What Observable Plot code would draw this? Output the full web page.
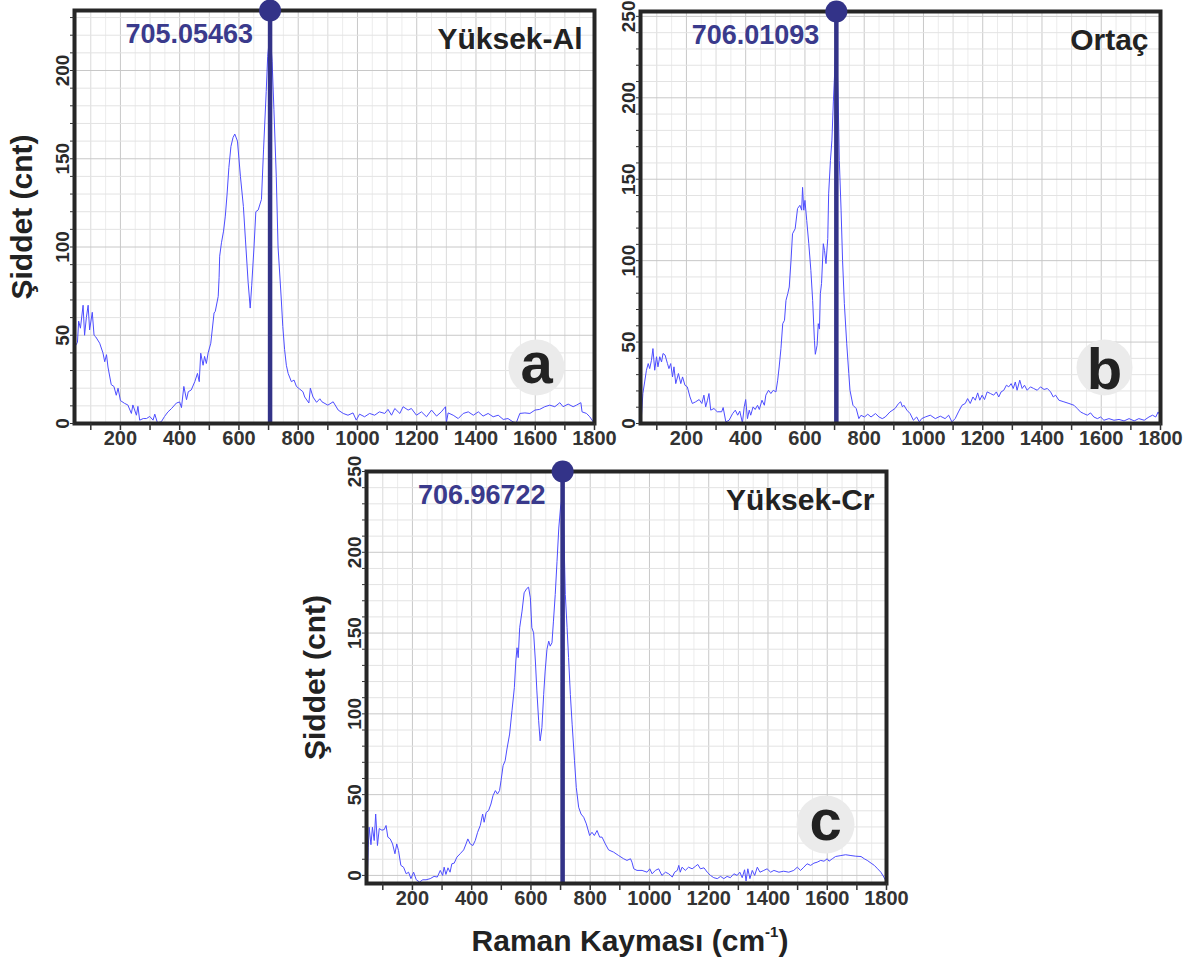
<!DOCTYPE html>
<html>
<head>
<meta charset="utf-8">
<script src="https://cdn.jsdelivr.net/npm/d3@7"></script>
<script src="https://cdn.jsdelivr.net/npm/@observablehq/plot@0.6"></script>
<style>
  html, body { margin: 0; padding: 0; background: #fff; }
  #fig { position: relative; width: 1195px; height: 962px; overflow: hidden;
         font-family: "Liberation Sans", Arial, Helvetica, sans-serif; }
  .panel { position: absolute; }
  .xtitle { position: absolute; left: 330px; width: 600px; top: 926px; text-align: center;
            font-size: 30px; line-height: 30px; font-weight: bold; color: #222; }
  .xtitle sup { font-size: 15px; vertical-align: 14px; line-height: 0; }
</style>
</head>
<body>
<div id="fig"></div>
<script>
// Raman spectra of three samples: Raman shift (cm-1) vs. intensity (counts)
const FONT = '"Liberation Sans", Arial, Helvetica, sans-serif';
const NAVY = "#333388";
const TRACE = "#4d4dff";

// (a) Yüksek-Al
const shiftA = [48,55,59,65,74,79,85,91,96,105,111,117,130,141,147,153,158,169,178,186,192,200,214,225,237,242,254,259,265,277,288,299,310,316,325,338,349,360,372,389,400,406,414,423,429,439,451,460,466,471,479,484,490,496,505,516,520,530,533,535,541,548,554,560,566,573,580,586,595,605,615,622,631,638,643,651,657,665,676,683,692,697,705,712,718,726,732,743,748,754,760,766,777,786,794,805,816,822,836,841,850,862,873,880,900,918,935,952,968,985,996,1007,1024,1041,1058,1074,1092,1103,1115,1126,1143,1154,1171,1182,1199,1216,1233,1250,1267,1283,1297,1300,1306,1323,1340,1357,1374,1391,1408,1424,1441,1458,1475,1492,1508,1525,1536,1548,1565,1582,1599,1615,1632,1649,1666,1683,1694,1711,1728,1739,1754,1758,1773,1784,1796];
const countA = [44,46,58,54,67,50,60,67,53,63,50,49,45.5,40,35,39,32,22,21,16,20,13,11.4,10.5,5.7,10.5,4.7,9.7,1.9,2.8,2.8,4,1.9,5.3,0.4,1,4,6.5,8.4,11.6,12.2,9,21,13.5,18,19,23.7,28.4,23.7,39.8,33,38,34,40,45.5,62.6,63.5,72,82.6,94.8,102.4,109,117.5,130,145,157,162,164,160,140,123,104,80,65.4,78,100.5,120,121,127,155,188,208,222,205,178,140,100,70,55,42,33,28.4,23.7,24.6,21,19.5,18,15,11.6,20,15,12,14,12.3,10.4,12.3,7.6,5.7,4.7,6,1.9,5.3,3.8,5.7,4.7,6.6,5.7,8,4.7,8.5,5.7,9.5,7.6,8.5,4.7,6.6,3.8,7.6,4.2,6.6,9.5,0.4,6,4.7,2.8,5.7,6.6,4.7,6.6,4.2,5.7,3.8,4.7,2.3,2.8,0.9,0.4,5.7,6,5.7,7.6,8,9.5,10.4,9.5,11.8,9.5,11,9.5,10.4,11.8,6.6,5.7,3.8,0.9];

// (b) Ortaç
const shiftB = [48,53,59,65,71,76,82,87,93,99,104,110,116,121,128,136,141,147,153,158,164,173,181,187,195,203,212,220,231,243,252,259,265,271,276,282,293,304,319,324,333,344,356,365,373,380,389,395,400,406,412,417,425,432,440,446,455,463,468,477,485,493,502,508,513,519,525,531,536,542,547,553,558,567,575,583,589,592,596,600,606,613,620,626,632,635,641,645,649,652,656,662,666,671,677,680,686,691,696,706,712,716,722,727,733,741,748,752,762,773,782,789,801,812,823,838,850,861,871,887,904,916,923,929,934,944,955,966,977,986,994,1006,1023,1040,1057,1073,1085,1096,1107,1118,1130,1141,1149,1158,1167,1175,1183,1190,1198,1206,1215,1226,1237,1246,1254,1262,1271,1280,1288,1296,1303,1310,1316,1325,1333,1341,1350,1361,1372,1384,1395,1407,1418,1429,1438,1446,1457,1474,1491,1508,1519,1530,1541,1553,1564,1575,1587,1598,1609,1626,1643,1660,1677,1694,1711,1727,1745,1761,1773,1784,1792,1798];
const countB = [4,18.4,25.5,32.7,36.8,33.7,38.8,46,32.7,41,34.8,41,37.8,43,42,36.8,33.7,36.8,28.6,34.8,24.5,30.7,24.5,28.6,23.5,22.5,16.3,12.3,13.3,14.7,12.3,17.4,10.2,14.3,18.4,8.2,9.2,7.2,7.2,9.8,1,2,6.1,8.2,5.1,7.6,0.4,10.2,14.7,3,8.2,5.1,10.2,8.6,11.2,8.6,14.3,11.2,17.4,20.4,18.4,20.4,19.4,26.6,34.7,46,61.3,63.4,75.6,79.7,83.8,100.2,116.5,119.6,132,134,131,145,131,137,124.7,110.4,94,75.6,51,42.5,48,61.3,58,79.7,86,110.4,106.3,98.2,113.5,141,161.5,174,198,238,200,161.5,131,100,73.6,49,30.7,20.4,11.2,9.2,3,5,4,5.7,4,6.1,4,3,4,7.1,9.2,12.3,13.3,10.2,11.2,8.2,6.1,2,4,1,3,4,5.1,3,4.5,3,5.1,1,3,7.1,11.2,12.3,15.3,12.3,16.3,14.3,18.8,14.3,17.4,14.7,19.4,18.4,17.4,19.4,16.3,19.4,20.4,23.5,22.5,24.5,21.5,25.5,20.4,26.6,21.5,23.5,20.4,22.5,21.5,20.4,22.5,20.9,21.5,19.4,16.3,17.4,14.3,13.3,12.3,11.2,9.2,7.1,6.1,5.1,6.5,4,3,4,2,3,2,2.5,1.6,3,1.6,3,2,4,5.1,4,7.1,5];

// (c) Yüksek-Cr
const shiftC = [48,51,54,60,65,71,76,82,88,97,105,111,117,125,133,141,147,153,161,170,179,187,195,204,213,224,235,246,260,273,284,294,302,307,313,320,327,333,341,350,361,373,381,387,395,404,412,420,429,437,442,449,457,465,472,480,487,494,499,506,513,519,528,536,544,549,553,557,562,570,577,586,592,598,603,609,615,620,626,631,637,643,648,654,660,665,671,676,682,688,694,700,707,712,716,722,727,733,739,747,753,761,769,778,787,798,806,814,823,832,840,851,862,879,896,913,924,936,941,947,958,975,992,1001,1009,1020,1031,1042,1054,1065,1077,1085,1094,1099,1104,1110,1121,1132,1144,1155,1163,1172,1184,1195,1206,1217,1229,1240,1251,1262,1273,1285,1296,1305,1313,1321,1326,1332,1339,1347,1355,1364,1373,1386,1397,1409,1420,1437,1453,1470,1487,1499,1510,1521,1532,1544,1555,1566,1578,1589,1600,1606,1617,1628,1646,1662,1680,1696,1714,1725,1735,1748,1759,1770,1781,1791,1798];
const countC = [1,17.5,29.8,19,29.8,21.6,38,18.5,29,28,28.4,30.9,23.7,22.6,19.5,13.4,19.5,15.4,6.2,5.1,1,2,-2,2,-2.7,-4.1,-2.7,-2.7,-2,-0.6,-1,3.1,0,5.1,0.6,4.7,2,7.2,7.6,11.3,13.4,15.8,19.5,22.6,19.5,18.5,21.6,26.7,30.9,38,32.9,39,40.1,44.2,49.4,52.5,50.4,52.5,58.6,67.9,71,78.2,87.5,101.9,116.2,132.7,140.9,134.8,153.3,163.6,174.9,177.6,178.4,171.8,153.3,150.2,132.7,114.2,95.7,83.3,91.5,112.1,126.5,139.9,145,141.9,144,157.4,173.9,194.4,215,228,236,205,173.9,153.3,134.8,112,93.6,71,54.5,42.2,38,36,31.9,24.7,26.7,24.7,27.8,23.7,23.7,19.5,15.8,14.4,12.3,10.3,9.3,10.3,8.2,4.1,3.1,3.1,2,4.1,1,3.1,4.1,0,2,1,-1,2,3.1,6.2,2,5.1,3.1,5.1,4.1,5.6,6.8,4.1,4.7,2,0,-1.4,-2,-0.6,-2,-0.6,-1.4,1,0,2,-1.4,3.5,-3.4,4.1,-2,3.1,0,5.1,2,3.1,4.1,2,3.1,2,2.6,2,3.1,5.1,3.1,5.1,7.2,6.2,7.6,8.2,9.3,8.8,10.3,8.8,10.3,11.7,12.3,12.8,12.3,11.9,11.7,10.3,9.3,7.6,6.2,4.1,2,-1,-3.4];

// peak positions marked on each spectrum, sample names and panel letters
const peaks = [705.05463, 706.01093, 706.96722];
const samples = ["Yüksek-Al", "Ortaç", "Yüksek-Cr"];
const letters = ["a", "b", "c"];

// axis tick labels
const xTickLabels = [200, 400, 600, 800, 1000, 1200, 1400, 1600, 1800];
const yTickLabelsA = [0, 50, 100, 150, 200];
const yTickLabelsBC = [0, 50, 100, 150, 200, 250];
const yTitle = "Şiddet (cnt)";

function spectrumPlot(o) {
  const data = o.shift.map((x, i) => ({x, y: o.count[i]}));
  const [y0, y1] = o.yDomain;
  const xFine = d3.range(50, 1801, 50).filter(v => v % 100);
  const xMid = d3.range(100, 1801, 100).filter(v => v % 200);
  const xMajor = d3.range(200, 1801, 200);
  const yFine = d3.range(Math.ceil(y0 / 10) * 10, y1 + 0.01, 10).filter(v => v % 50);
  const yMajor = d3.range(0, y1 + 0.01, 50);
  const marks = [
    Plot.ruleX(xFine, {stroke: "#ececec"}),
    Plot.ruleX(xMid, {stroke: "#dadada"}),
    Plot.ruleX(xMajor, {stroke: "#c8c8c8"}),
    Plot.ruleY(yFine, {stroke: "#e3e3e3"}),
    Plot.ruleY(yMajor, {stroke: "#c8c8c8"}),
    // panel letter badge
    Plot.dot([o.letter], {frameAnchor: "bottom-right", dx: o.badge.dx, dy: o.badge.dy, r: o.badge.r, fill: "#ebebeb"}),
    Plot.text([o.letter], {text: d => d, frameAnchor: "bottom-right", dx: o.badge.dx,
      dy: o.badge.dy + (o.letter === "b" ? 21 : 15), textAnchor: "middle", lineAnchor: "bottom",
      fontSize: 58, fontWeight: "bold", fill: "#222"}),
    // spectrum
    Plot.line(data, {x: "x", y: "y", stroke: TRACE, strokeWidth: 1, clip: true}),
    // peak marker
    Plot.ruleX([o.peak], {stroke: NAVY, strokeWidth: 4.5}),
    Plot.frame({stroke: "#262626", strokeWidth: 4}),
    Plot.dot([o.peak], {x: d => d, y: () => y1, r: 11, fill: NAVY}),
    Plot.text([o.peak], {x: d => d, y: () => y1, text: d => d.toFixed(5), dx: -17, dy: 32,
      textAnchor: "end", lineAnchor: "bottom", fill: "#3a3a8c", fontSize: 27, fontWeight: "bold"}),
    // sample name
    Plot.text([o.sample], {text: d => d, frameAnchor: "top-right", dx: -12, dy: 38.5,
      textAnchor: "end", lineAnchor: "bottom", fontSize: 30, fontWeight: "bold", fill: "#222"}),
    // axes: tick marks outside the frame, bold tick labels
    Plot.axisX(d3.range(100, 1801, 100), {tickSize: 7, fill: "none", stroke: "#333", strokeWidth: 1.5, label: null}),
    Plot.text(xTickLabels, {x: d => d, text: d => String(d), frameAnchor: "bottom", dy: 7,
      textAnchor: "middle", lineAnchor: "top", fontSize: 20, fontWeight: "bold", fill: "#333"}),
    Plot.axisY(d3.range(0, y1 + 0.01, 10), {tickSize: 4, fill: "none", stroke: "#333", label: null}),
    Plot.text(o.yLabels, {y: d => d, text: d => String(d), frameAnchor: "left", rotate: -90,
      textAnchor: "middle", lineAnchor: "bottom", dx: -5.5, fontSize: 19, fontWeight: 900, fill: "#2a2a2a"})
  ];
  if (o.titleDx != null) {
    marks.push(Plot.text([yTitle], {text: d => d, frameAnchor: "left", rotate: -90, textAnchor: "middle",
      lineAnchor: "bottom", dx: o.titleDx, fontSize: 30, fontWeight: "bold", fill: "#222"}));
  }
  return Plot.plot({
    width: o.width, height: o.height,
    marginLeft: o.ml, marginRight: o.mr, marginTop: o.mt, marginBottom: o.mb,
    x: {domain: [45, 1800], label: null},
    y: {domain: o.yDomain, label: null},
    style: {background: "transparent", overflow: "visible", maxWidth: "none", fontFamily: FONT},
    marks
  });
}

const fig = document.getElementById("fig");
function place(svg, left, top) {
  const d = document.createElement("div");
  d.className = "panel";
  d.style.left = left + "px";
  d.style.top = top + "px";
  d.appendChild(svg);
  fig.appendChild(d);
}

place(spectrumPlot({
  shift: shiftA, count: countA, peak: peaks[0], sample: samples[0], letter: letters[0],
  yDomain: [0, 234], yLabels: yTickLabelsA, titleDx: -43,
  width: 610, height: 460, ml: 74, mr: 16, mt: 10, mb: 37,
  badge: {dx: -58, dy: -56, r: 28}
}), 0, 0);

place(spectrumPlot({
  shift: shiftB, count: countB, peak: peaks[1], sample: samples[1], letter: letters[1],
  yDomain: [0, 253], yLabels: yTickLabelsBC, titleDx: null,
  width: 600, height: 460, ml: 60, mr: 20, mt: 11, mb: 37,
  badge: {dx: -56, dy: -56, r: 28}
}), 580, 0);

place(spectrumPlot({
  shift: shiftC, count: countC, peak: peaks[2], sample: samples[2], letter: letters[2],
  yDomain: [-5, 250], yLabels: yTickLabelsBC, titleDx: -42,
  width: 620, height: 460, ml: 76, mr: 24, mt: 21, mb: 27,
  badge: {dx: -61, dy: -59, r: 29}
}), 290, 450);

const xt = document.createElement("div");
xt.className = "xtitle";
xt.innerHTML = "Raman Kayması (cm<sup>-1</sup>)";
fig.appendChild(xt);
</script>
</body>
</html>
